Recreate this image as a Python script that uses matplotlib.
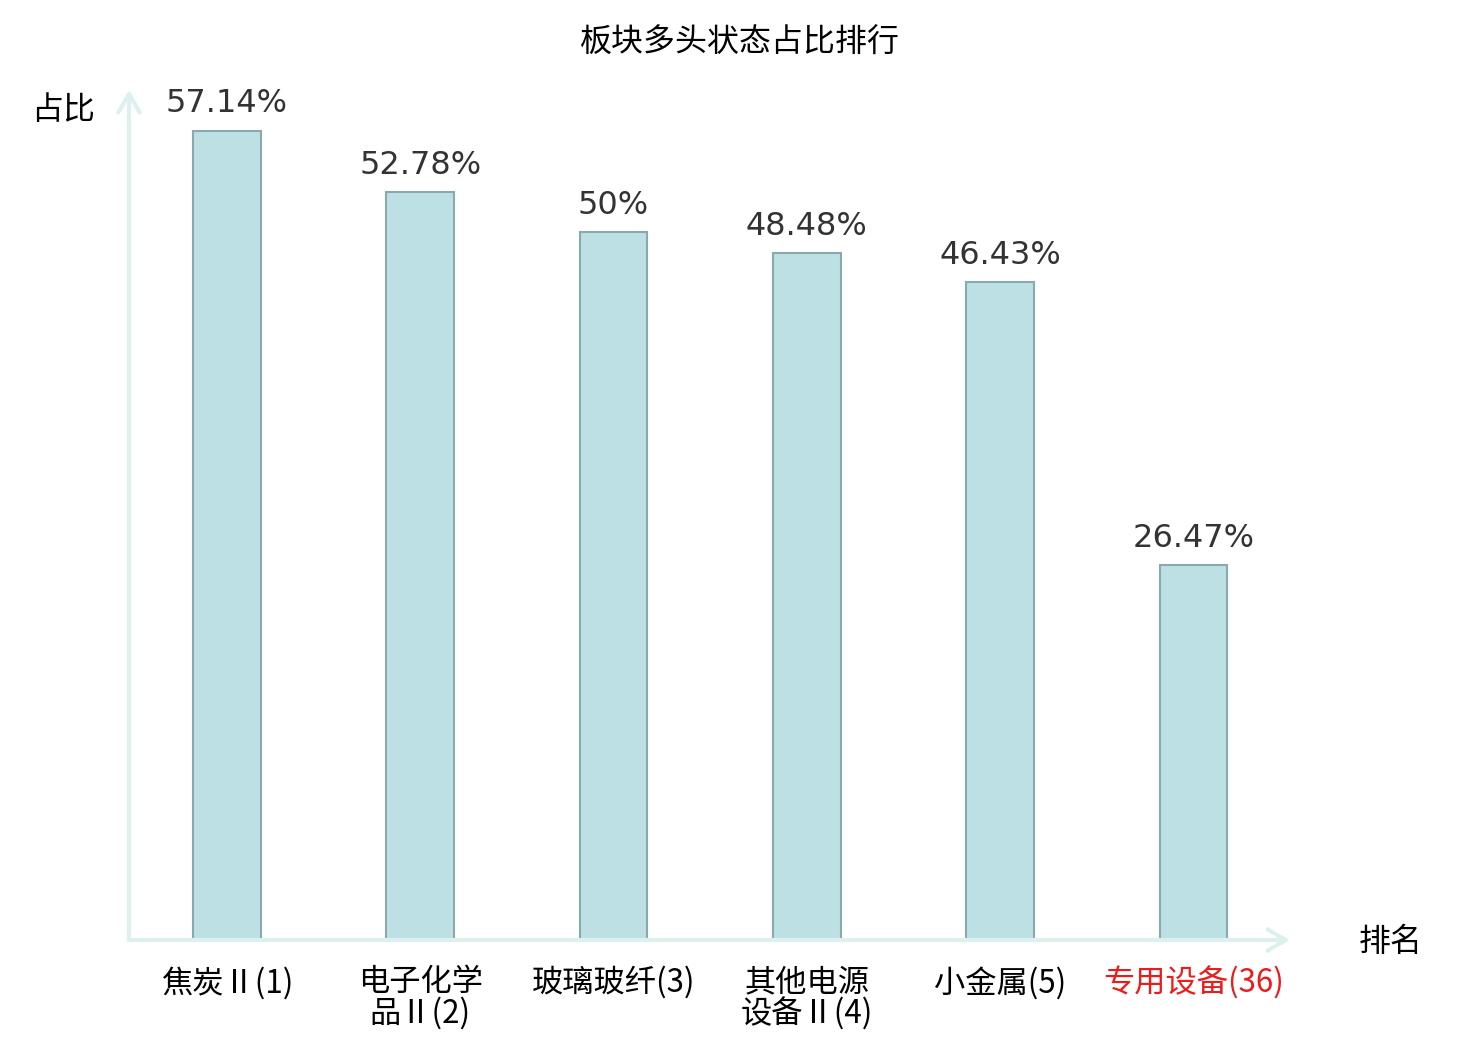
import matplotlib.pyplot as plt

plt.rcParams['font.family'] = ['Noto Sans CJK SC', 'DejaVu Sans']

sectors = ['焦炭Ⅱ(1)', '电子化学\n品Ⅱ(2)', '玻璃玻纤(3)', '其他电源\n设备Ⅱ(4)', '小金属(5)', '专用设备(36)']
ratios = [57.14, 52.78, 50, 48.48, 46.43, 26.47]
ratio_labels = ['57.14%', '52.78%', '50%', '48.48%', '46.43%', '26.47%']

AXIS_COLOR = '#dcf1ee'

fig = plt.figure(figsize=(14.8, 10.4), dpi=100)
ax = fig.add_axes([129 / 1480, 100 / 1040, 1161 / 1480, 850 / 1040])

x = list(range(len(sectors)))
bars = ax.bar(x, ratios, width=0.35, color='#bce0e3', edgecolor='#8ba9ac', linewidth=1.5)

for b, lab in zip(bars, ratio_labels):
    ax.annotate(lab, (b.get_x() + b.get_width() / 2, b.get_height()),
                xytext=(0, 8), textcoords='offset points', ha='center', va='bottom',
                fontsize=23, color='#333333', family='DejaVu Sans')

ax.set_xlim(-0.507, 5.5)
ax.set_ylim(0, 60)
for s in ax.spines.values():
    s.set_visible(False)
ax.set_yticks([])
ax.set_xticks(x)
ax.set_xticklabels(sectors, fontsize=22.5, linespacing=0.95)
ax.tick_params(axis='x', length=0, pad=19)
ax.get_xticklabels()[-1].set_color('#ea1c1c')

# axis arrows
arrow = dict(arrowstyle='->,head_length=0.6,head_width=0.35', color=AXIS_COLOR, lw=3,
             mutation_scale=22, shrinkA=0, shrinkB=0)
ax.annotate('', xy=(0, 1), xytext=(0, 0), xycoords='axes fraction', arrowprops=arrow,
            annotation_clip=False)
ax.annotate('', xy=(1, 0), xytext=(0, 0), xycoords='axes fraction', arrowprops=arrow,
            annotation_clip=False)

fig.text(63 / 1480, 1 - 110 / 1040, '占比', fontsize=23, ha='center', va='center')
fig.text(1391 / 1480, 1 - 942 / 1040, '排名', fontsize=23, ha='center', va='center')
fig.text(740 / 1480, 1 - 43 / 1040, '板块多头状态占比排行', fontsize=23, ha='center', va='center')

fig.savefig('out.png', dpi=100)
